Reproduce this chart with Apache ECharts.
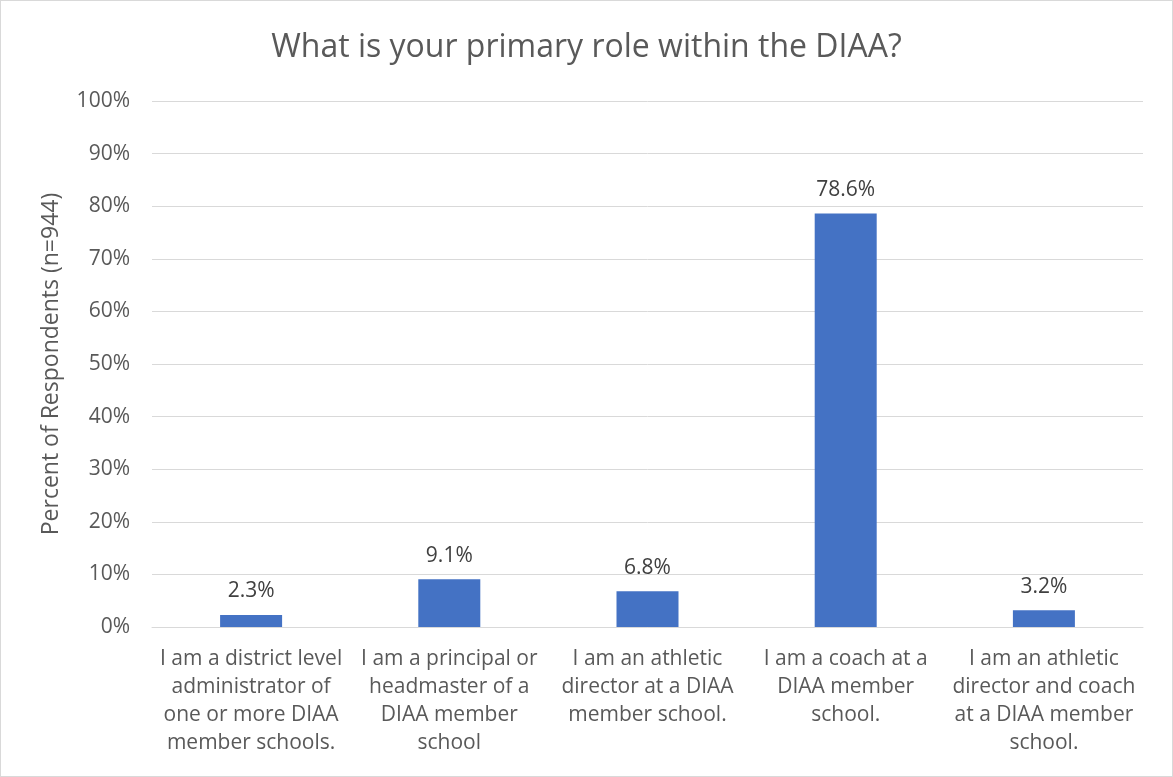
<!DOCTYPE html>
<html><head><meta charset="utf-8">
<script src="https://cdn.jsdelivr.net/npm/echarts@6/dist/echarts.min.js"></script>
<style>html,body{margin:0;padding:0;background:#fff}#c{width:1173px;height:777px;box-sizing:border-box;border:1px solid #d9d9d9}</style>
</head><body><div id="c"></div>
<script>
const categories = [
  "I am a district level\nadministrator of\none or more DIAA\nmember schools.",
  "I am a principal or\nheadmaster of a\nDIAA member\nschool",
  "I am an athletic\ndirector at a DIAA\nmember school.",
  "I am a coach at a\nDIAA member\nschool.",
  "I am an athletic\ndirector and coach\nat a DIAA member\nschool."
];
const values = [2.3, 9.1, 6.8, 78.6, 3.2];
const titleText = "What is your primary role within the DIAA?";
const yAxisName = "Percent of Respondents (n=944)";
const font = "'Open Sans', 'Noto Sans', sans-serif";
const chart = echarts.init(document.getElementById('c'));
chart.setOption({
  animation: false,
  title: { text: titleText, left: 'center', top: 26, textStyle: { fontFamily: font, fontSize: 32, fontWeight: 'normal', color: '#595959' } },
  grid: { left: 151, right: 29, top: 100, bottom: 149 },
  xAxis: {
    type: 'category', data: categories,
    axisTick: { show: false },
    axisLine: { lineStyle: { color: '#d9d9d9' } },
    axisLabel: { interval: 0, color: '#595959', fontFamily: font, fontSize: 21, lineHeight: 28, margin: 18 }
  },
  yAxis: {
    type: 'value', min: 0, max: 100, interval: 10,
    name: yAxisName, nameLocation: 'middle', nameGap: 89,
    nameTextStyle: { color: '#595959', fontFamily: font, fontSize: 23 },
    axisLabel: { formatter: '{value}%', color: '#595959', fontFamily: font, fontSize: 21, margin: 22 },
    splitLine: { lineStyle: { color: '#d9d9d9' } },
    axisLine: { show: false }, axisTick: { show: false }
  },
  series: [{
    type: 'bar', data: values, barWidth: 62,
    itemStyle: { color: '#4472c4' },
    label: { show: true, position: 'top', distance: 13, formatter: p => p.value.toFixed(1) + '%', color: '#404040', fontFamily: font, fontSize: 21 }
  }]
});
</script></body></html>
